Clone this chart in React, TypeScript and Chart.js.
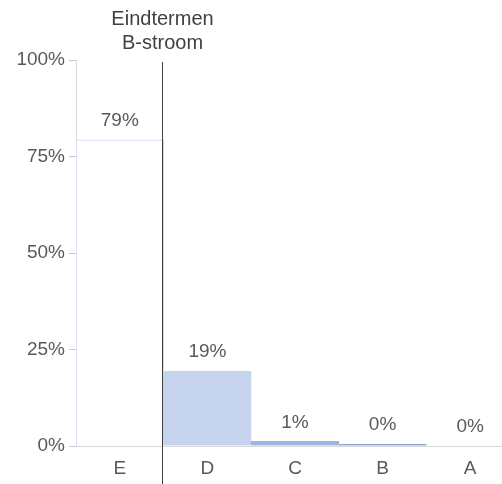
import React, { useEffect, useRef } from "react";
import { Chart, registerables } from "chart.js";

Chart.register(...registerables);

const categories = ["E", "D", "C", "B", "A"];
const values = [79.3, 19.4, 1.2, 0.45, 0];
const barColors = ["#ffffff", "#c5d3ec", "#9fb4e0", "#8fa6d6", "#8fa6d6"];
const borderColors = ["#c6d4ee", "#c5d3ec", "#9fb4e0", "#8fa6d6", "#8fa6d6"];
const yTicks = [0, 25, 50, 75, 100];
const markerTitle = ["Eindtermen", "B-stroom"];

const FONT = "'Liberation Sans', Arial, sans-serif";

export default function App() {
  const ref = useRef<HTMLCanvasElement | null>(null);

  useEffect(() => {
    document.body.style.margin = "0";
    document.body.style.overflow = "hidden";
    const canvas = ref.current;
    if (!canvas) return;

    const labelPlugin = {
      id: "labels",
      afterDatasetsDraw(chart: any) {
        const ctx = chart.ctx;
        const meta = chart.getDatasetMeta(0);
        ctx.save();
        ctx.font = `19px ${FONT}`;
        ctx.fillStyle = "#595959";
        ctx.textAlign = "center";
        ctx.textBaseline = "middle";
        meta.data.forEach((el: any, i: number) => {
          ctx.fillText(Math.round(values[i]) + "%", el.x, el.y - 19);
        });
        ctx.restore();
      },
      afterDraw(chart: any) {
        const ctx = chart.ctx;
        const xs = chart.scales.x;
        const lx = Math.round((xs.getPixelForValue(0) + xs.getPixelForValue(1)) / 2) - 1.5;
        ctx.save();
        ctx.strokeStyle = "#404040";
        ctx.lineWidth = 1;
        ctx.beginPath();
        ctx.moveTo(lx, 62);
        ctx.lineTo(lx, chart.height);
        ctx.stroke();
        ctx.font = `20px ${FONT}`;
        ctx.fillStyle = "#404040";
        ctx.textAlign = "center";
        ctx.textBaseline = "middle";
        ctx.fillText(markerTitle[0], lx, 19);
        ctx.fillText(markerTitle[1], lx, 43);
        ctx.restore();
      },
    };

    const chart = new Chart(canvas, {
      type: "bar",
      data: {
        labels: categories,
        datasets: [
          {
            data: values,
            backgroundColor: barColors,
            borderColor: borderColors,
            borderWidth: 1,
            barPercentage: 1,
            categoryPercentage: 1,
          },
        ],
      },
      options: {
        responsive: false,
        animation: false,
        layout: { padding: { top: 60, right: 6, left: 0, bottom: 0 } },
        plugins: {
          legend: { display: false },
          tooltip: { enabled: false },
        },
        scales: {
          x: {
            grid: { display: false, drawTicks: false },
            border: { display: true, color: "#d9d9d9", width: 1 },
            ticks: {
              color: "#595959",
              font: { family: FONT, size: 19 },
              padding: 11,
            },
            afterFit(s: any) {
              s.height = 38;
            },
          },
          y: {
            min: 0,
            max: 100,
            afterBuildTicks(s: any) {
              s.ticks = yTicks.map((v) => ({ value: v }));
            },
            grid: {
              drawOnChartArea: false,
              drawTicks: true,
              tickLength: 7,
              color: "#c8c8c8",
            },
            border: { display: true, color: "#d9d9d9", width: 1 },
            ticks: {
              color: "#595959",
              font: { family: FONT, size: 19 },
              padding: 4,
              callback: (v: any) => v + "%",
            },
            afterFit(s: any) {
              s.width = 76;
            },
          },
        },
      },
      plugins: [labelPlugin],
    });

    return () => chart.destroy();
  }, []);

  return (
    <div style={{ width: 502, height: 484, overflow: "hidden", position: "relative" }}>
      <canvas ref={ref} width={520} height={484} style={{ display: "block" }} />
    </div>
  );
}
